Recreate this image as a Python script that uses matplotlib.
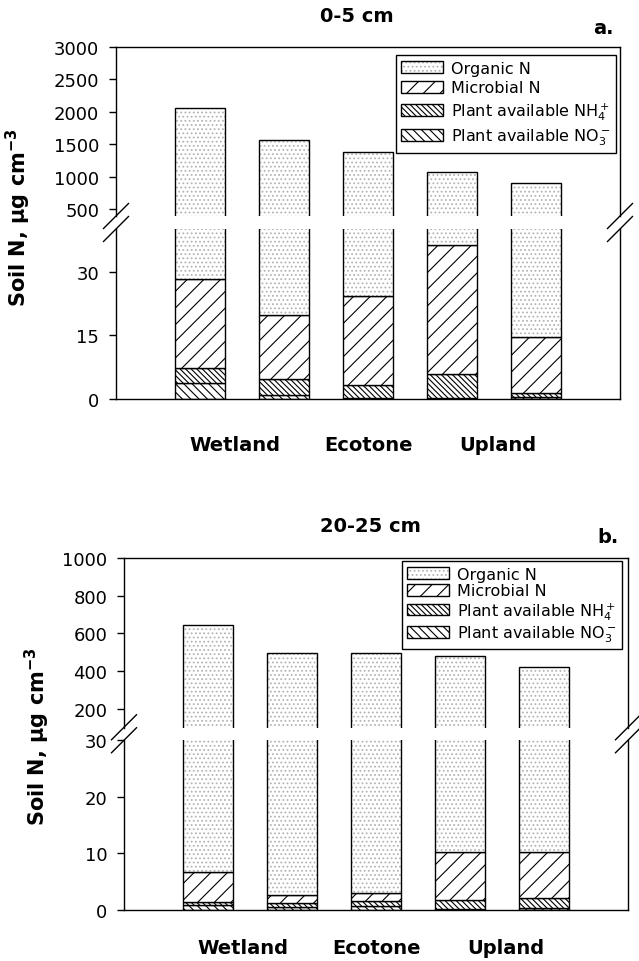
import matplotlib.pyplot as plt
from matplotlib.patches import Patch
from matplotlib.legend_handler import HandlerTuple
import numpy as np

plt.rcParams['font.family'] = 'DejaVu Sans'
plt.rcParams['hatch.linewidth'] = 0.8

sites = ['Wetland', 'Ecotone', 'Upland']
site_pos = [0.42, 2.0, 3.55]

# 0-5 cm (ug cm-3), stacked from the bottom
no3_a = [3.7, 1.0, 0.3, 0.3, 0.4]
nh4_a = [3.6, 3.8, 3.0, 5.6, 1.0]
mic_a = [21.0, 14.9, 20.9, 30.4, 13.1]
org_a = [2031, 1550, 1361, 1034, 886]

# 20-25 cm
no3_b = [0.8, 0.6, 0.7, 0.2, 0.3]
nh4_b = [0.7, 0.7, 0.9, 1.5, 1.9]
mic_b = [5.2, 1.3, 1.4, 8.6, 8.1]
org_b = [635, 495, 492, 470, 410]

labels = ['Organic N', 'Microbial N', 'Plant available NH$_4^+$', 'Plant available NO$_3^-$']

W = 639
H = 962
BW = 0.6
LW = 1.0
ORG_FACE = 'white'
ORG_DOT = '#b4b4b4'
H_ORG = '....'
H_MIC = '//'
H_NH4 = '\\' * 6
H_NO3 = '\\' * 4

fig = plt.figure(figsize=(W / 100, H / 100), dpi=100)


def px_axes(left, right, top, bottom):
    return fig.add_axes([left / W, 1 - bottom / H, (right - left) / W, (bottom - top) / H])


def draw_stack(ax, no3, nh4, mic, org):
    x = np.arange(len(no3))
    b1 = np.array(no3)
    b2 = b1 + np.array(nh4)
    b3 = b2 + np.array(mic)
    ax.bar(x, no3, BW, color='white', edgecolor='black', hatch=H_NO3, lw=LW)
    ax.bar(x, nh4, BW, bottom=b1, color='white', edgecolor='black', hatch=H_NH4, lw=LW)
    ax.bar(x, mic, BW, bottom=b2, color='white', edgecolor='black', hatch=H_MIC, lw=LW)
    ax.bar(x, org, BW, bottom=b3, color=ORG_FACE, edgecolor=ORG_DOT, hatch=H_ORG, lw=0)
    ax.bar(x, org, BW, bottom=b3, fill=False, edgecolor='black', lw=LW)


def break_marks(xs, gap_top, gap_bot):
    yc = (gap_top + gap_bot) / 2
    for xc in xs:
        for dy in (-6.5, 6.5):
            y0 = yc + dy
            fig.add_artist(plt.Line2D([(xc - 12.5) / W, (xc + 12.5) / W],
                                      [1 - (y0 + 12.5) / H, 1 - (y0 - 12.5) / H],
                                      color='black', lw=1.0))


def panel(left, right, top, gap_top, gap_bot, bottom, up_lim, up_ticks, low_lim, low_ticks,
          data, leg_anchor, leg_space, xpad):
    ax_up = px_axes(left, right, top, gap_top)
    ax_lo = px_axes(left, right, gap_bot, bottom)
    for ax in (ax_up, ax_lo):
        draw_stack(ax, *data)
        ax.set_xlim(-1, 5)
        ax.tick_params(axis='y', labelsize=13, length=5, width=1, pad=7)
        for s in ax.spines.values():
            s.set_linewidth(1.0)
    ax_up.set_ylim(*up_lim)
    ax_up.set_yticks(up_ticks)
    ax_up.spines['bottom'].set_visible(False)
    ax_up.set_xticks([])
    ax_lo.set_ylim(*low_lim)
    ax_lo.set_yticks(low_ticks)
    ax_lo.spines['top'].set_visible(False)
    ax_lo.set_xticks(site_pos, sites, fontsize=14, fontweight='bold')
    ax_lo.tick_params(axis='x', length=0, pad=xpad)
    break_marks([left, right], gap_top, gap_bot)

    org_h = (Patch(facecolor=ORG_FACE, edgecolor=ORG_DOT, hatch=H_ORG, lw=0),
             Patch(fill=False, edgecolor='black', lw=LW))
    handles = [org_h,
               Patch(facecolor='white', edgecolor='black', hatch=H_MIC, lw=LW),
               Patch(facecolor='white', edgecolor='black', hatch=H_NH4, lw=LW),
               Patch(facecolor='white', edgecolor='black', hatch=H_NO3, lw=LW)]
    leg = ax_up.legend(handles, labels, loc='upper right', bbox_to_anchor=leg_anchor,
                       handler_map={tuple: HandlerTuple(ndivide=1)},
                       fontsize=11.5, fancybox=False, framealpha=1, edgecolor='black',
                       borderaxespad=0, labelspacing=leg_space, handlelength=2.6,
                       handleheight=0.75, handletextpad=0.5, borderpad=0.35)
    leg.get_frame().set_linewidth(1.0)
    return ax_up, ax_lo


panel(116, 620, 48, 217, 230, 400, (390, 3000), [500, 1000, 1500, 2000, 2500, 3000],
      (0, 40), [0, 15, 30], (no3_a, nh4_a, mic_a, org_a), (0.992, 0.953), 0.3, 26)
panel(124, 628, 559, 728.5, 741, 911, (100, 1000), [200, 400, 600, 800, 1000],
      (0, 30), [0, 10, 20, 30], (no3_b, nh4_b, mic_b, org_b), (0.988, 0.982), 0.1, 20)

fig.text(357 / W, 1 - 16 / H, '0-5 cm', ha='center', va='center', fontsize=14, fontweight='bold')
fig.text(603 / W, 1 - 28 / H, 'a.', ha='center', va='center', fontsize=14, fontweight='bold')
fig.text(370 / W, 1 - 527 / H, '20-25 cm', ha='center', va='center', fontsize=14, fontweight='bold')
fig.text(608 / W, 1 - 538 / H, 'b.', ha='center', va='center', fontsize=14, fontweight='bold')

ylab = 'Soil N, µg cm$^{\\mathbf{-3}}$'
fig.text(18 / W, 1 - 218 / H, ylab, rotation=90, ha='center', va='center', fontsize=15, fontweight='bold')
fig.text(37 / W, 1 - 737 / H, ylab, rotation=90, ha='center', va='center', fontsize=15, fontweight='bold')

fig.savefig('out.png', dpi=100)
